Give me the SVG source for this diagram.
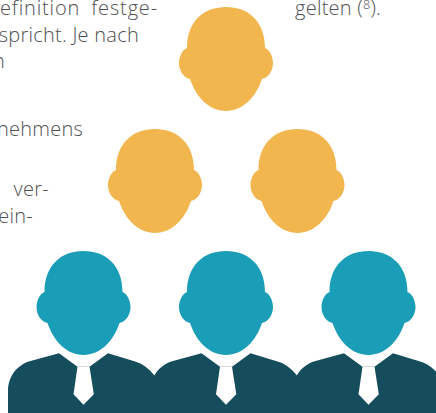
<svg xmlns="http://www.w3.org/2000/svg" width="436" height="413" viewBox="0 0 436 413">
<style>
.t{font-family:"Open Sans","Noto Sans",sans-serif;font-size:20px;font-weight:300;letter-spacing:.25px;fill:#4f5052}
.y{fill:#f2b64f}.b{fill:#1a9eb7}.d{fill:#154d5c}.w{fill:#fff}
</style>
<defs>
<path id="h" d="M-39,41C-39,14-22,0 0,0C22,0 39,14 39,41C44,43 47,50 47,56C47,64 42,71 36,72C30,90 17,104 0,104C-17,104-30,90-36,72C-42,71-47,64-47,56C-47,50-44,43-39,41Z"/>
<path id="s" d="M-24.500,102.300L-53,110C-67,114-75.500,126-75.500,140V162H71.500V125C65,117 58,112 50,110L24.500,102.300L6,115.700H-6Z"/>
<path id="k" d="M-6,115.700H6L10.300,143.300L0,153.700L-10,143.300Z"/>
</defs>
<g id="text">
<text class="t" x="158" y="15" text-anchor="end" word-spacing="5" style="letter-spacing:.85px">efinition festge-</text>
<text class="t" x="139" y="41.500" text-anchor="end">spricht. Je nach</text>
<text class="t" x="5" y="68" text-anchor="end">n</text>
<text class="t" x="83" y="136" text-anchor="end">nehmens</text>
<text class="t" x="49" y="196" text-anchor="end">ver-</text>
<text class="t" x="33" y="223" text-anchor="end">ein-</text>
<text class="t" x="295" y="15">gelten (<tspan font-size="12.500" dy="-6">8</tspan><tspan dy="6">).</tspan></text>
</g>
<g id="head-top"><use href="#h" x="226" y="7" class="y"/></g>
<g id="head-mid-left"><use href="#h" x="155" y="129" class="y"/></g>
<g id="head-mid-right"><use href="#h" x="297.500" y="129" class="y"/></g>
<g id="person-left"><use href="#h" x="83.500" y="251" class="b"/><use href="#s" x="83.500" y="251" class="d"/><use href="#k" x="83.500" y="251" class="w"/></g>
<g id="person-center"><use href="#h" x="226" y="251" class="b"/><use href="#s" x="226" y="251" class="d"/><use href="#k" x="226" y="251" class="w"/></g>
<g id="person-right"><use href="#h" x="368.500" y="251" class="b"/><use href="#s" x="368.500" y="251" class="d"/><use href="#k" x="368.500" y="251" class="w"/></g>
</svg>
